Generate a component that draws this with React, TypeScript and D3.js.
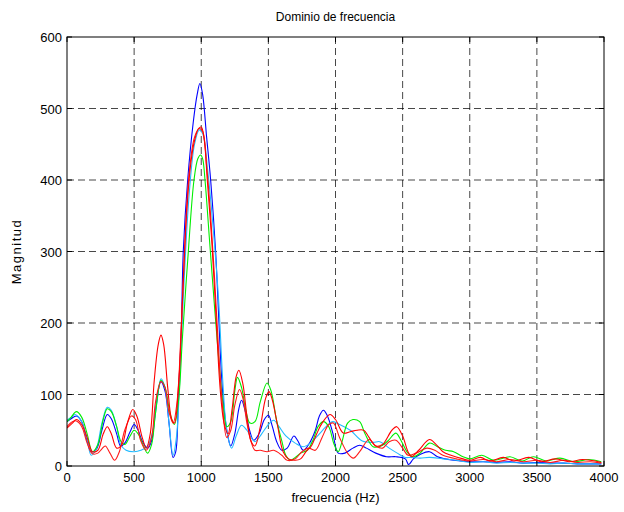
import React from "react";
import * as d3 from "d3";

const xTicks = [0, 500, 1000, 1500, 2000, 2500, 3000, 3500, 4000];
const yTicks = [0, 100, 200, 300, 400, 500, 600];

const blueData: [number, number][] = [
  [0,62],[30,66],[70,70],[110,62],[150,35],[180,20],[220,24],[260,50],[300,72],[330,66],[370,45],[400,28],[430,32],[470,48],[500,58],[530,50],[560,35],[600,25],[630,35],[660,80],[700,118],[730,105],[760,60],[790,12],[810,20],[830,100],[850,180],[866,300],[899,400],[940,480],[970,520],[990,535],[1010,520],[1040,460],[1070,400],[1107,300],[1132,200],[1150,130],[1170,80],[1200,40],[1220,28],[1250,45],[1280,80],[1300,92],[1330,75],[1360,50],[1390,36],[1430,45],[1470,65],[1500,71],[1530,55],[1560,35],[1600,22],[1640,25],[1690,42],[1720,35],[1760,22],[1800,30],[1850,50],[1880,70],[1910,78],[1940,70],[1980,46],[2020,18],[2070,18],[2130,25],[2180,29],[2230,25],[2300,18],[2380,13],[2450,13],[2520,10],[2545,2],[2580,10],[2630,16],[2700,20],[2760,13],[2880,8],[3000,6],[3100,6],[3200,5],[3300,6],[3400,4],[3500,5],[3600,4],[3700,4],[3800,3],[3900,3],[3980,3]
];

const greenData: [number, number][] = [
  [0,62],[30,68],[70,76],[110,68],[150,45],[190,20],[230,30],[270,65],[300,80],[330,76],[370,55],[400,35],[430,30],[470,42],[500,50],[530,45],[570,28],[600,18],[630,30],[660,75],[700,120],[730,110],[770,72],[800,58],[830,90],[860,180],[900,290],[946,400],[975,430],[995,435],[1010,430],[1028,400],[1060,320],[1100,220],[1130,150],[1160,90],[1190,55],[1220,62],[1250,105],[1270,124],[1300,110],[1330,80],[1363,60],[1400,62],[1440,90],[1490,116],[1520,105],[1560,65],[1600,35],[1630,15],[1665,8],[1700,12],[1740,18],[1790,22],[1830,35],[1870,55],[1910,62],[1950,55],[1990,30],[2020,20],[2050,35],[2090,60],[2130,65],[2180,62],[2220,45],[2280,27],[2340,28],[2390,35],[2450,46],[2490,35],[2540,18],[2580,13],[2630,18],[2700,32],[2760,27],[2820,22],[2880,20],[2950,13],[3000,10],[3090,15],[3180,8],[3300,13],[3390,7],[3474,13],[3570,7],[3672,11],[3780,6],[3884,9],[3980,6]
];

const cyanData: [number, number][] = [
  [0,64],[30,68],[60,72],[100,65],[150,38],[180,15],[220,25],[260,60],[300,82],[330,78],[370,55],[400,30],[440,22],[500,20],[550,22],[600,28],[640,50],[670,90],[700,122],[730,110],[760,60],[790,15],[815,40],[840,120],[870,250],[910,380],[950,450],[985,470],[1010,465],[1050,410],[1090,330],[1130,230],[1160,120],[1190,50],[1226,25],[1260,42],[1300,57],[1340,50],[1400,34],[1450,45],[1500,58],[1540,64],[1580,55],[1630,42],[1700,32],[1760,27],[1820,33],[1880,45],[1930,55],[1980,62],[2030,58],[2110,50],[2200,35],[2280,33],[2330,34],[2400,25],[2460,18],[2520,12],[2560,12],[2630,11],[2700,12],[2800,10],[2900,8],[3000,5],[3100,6],[3200,4],[3300,5],[3400,4],[3500,4],[3600,3],[3700,4],[3800,3],[3900,3],[3980,3]
];

const redData: [number, number][] = [
  [0,53],[40,60],[70,65],[110,58],[150,40],[190,20],[230,22],[270,45],[300,55],[330,45],[370,25],[410,30],[450,60],[490,79],[520,70],[560,40],[590,25],[620,45],[650,120],[680,170],[700,183],[720,170],[750,110],[780,65],[800,60],[830,110],[860,230],[890,350],[920,420],[950,455],[980,472],[1000,474],[1020,460],[1045,400],[1080,310],[1110,210],[1140,110],[1170,60],[1200,45],[1230,80],[1260,125],[1280,134],[1310,115],[1340,70],[1370,35],[1400,28],[1440,55],[1480,95],[1505,104],[1530,92],[1570,55],[1610,20],[1650,10],[1700,8],[1740,10],[1780,20],[1820,28],[1860,45],[1900,60],[1959,72],[2000,65],[2058,46],[2110,48],[2160,50],[2210,50],[2250,40],[2300,28],[2350,30],[2420,50],[2456,55],[2500,42],[2540,20],[2567,13],[2620,22],[2700,37],[2750,30],[2800,20],[2860,15],[2950,10],[3000,8],[3080,12],[3150,7],[3250,12],[3330,7],[3440,12],[3530,6],[3640,10],[3740,6],[3840,9],[3980,5]
];

const red2Data: [number, number][] = [
  [0,55],[40,62],[70,63],[110,55],[150,32],[190,17],[230,18],[260,24],[285,28],[320,18],[355,8],[390,20],[430,50],[480,70],[510,65],[550,35],[590,22],[630,40],[660,90],[700,118],[730,110],[760,75],[790,60],[820,90],[850,190],[880,320],[910,410],[950,460],[985,472],[1010,468],[1040,420],[1070,350],[1100,260],[1130,160],[1160,80],[1190,40],[1220,50],[1250,85],[1285,107],[1310,95],[1340,60],[1370,35],[1400,22],[1440,22],[1490,20],[1540,22],[1600,15],[1640,8],[1700,10],[1750,20],[1800,25],[1850,22],[1900,40],[1950,58],[1984,60],[2030,40],[2090,18],[2133,11],[2180,20],[2250,37],[2300,28],[2350,25],[2400,34],[2450,36],[2500,25],[2540,15],[2600,18],[2680,25],[2740,22],[2800,15],[2900,10],[3000,7],[3100,9],[3200,6],[3300,9],[3400,6],[3500,8],[3600,5],[3700,8],[3800,5],[3900,6],[3980,4]
];

const series = [
  { data: blueData, color: "#0000ff" },
  { data: cyanData, color: "#22bbff" },
  { data: greenData, color: "#00ee00" },
  { data: red2Data, color: "#ff1a1a" },
  { data: redData, color: "#ff0000" },
];

const W = 624, H = 512;
const L = 67, R = 604, T = 37, B = 466;

export default function App() {
  const x = d3.scaleLinear().domain([0, 4000]).range([L, R]);
  const y = d3.scaleLinear().domain([0, 600]).range([B, T]);
  const line = d3.line<[number, number]>()
    .x(d => x(d[0]))
    .y(d => y(d[1]))
    .curve(d3.curveCatmullRom.alpha(0.5));
  const font = "Liberation Sans, Arial, sans-serif";
  return (
    <svg width={W} height={H} style={{ position: "absolute", left: 0, top: 0 }}>
      <rect x={0} y={0} width={W} height={H} fill="#fff" />
      <rect x={L} y={T} width={R - L} height={B - T} fill="#fff" />
      {xTicks.slice(1, -1).map(t => (
        <line key={"gx" + t} x1={x(t)} x2={x(t)} y1={T} y2={B} stroke="#000" strokeOpacity={0.72} strokeWidth={1} strokeDasharray="7,4" />
      ))}
      {yTicks.slice(1, -1).map(t => (
        <line key={"gy" + t} x1={L} x2={R} y1={y(t)} y2={y(t)} stroke="#000" strokeOpacity={0.72} strokeWidth={1} strokeDasharray="7,4" />
      ))}
      <g clipPath="url(#clip)">
        <clipPath id="clip"><rect x={L} y={T} width={R - L} height={B - T} /></clipPath>
        {series.map((s, i) => (
          <path key={i} d={line(s.data) || ""} fill="none" stroke={s.color} strokeWidth={1.1} />
        ))}
      </g>
      <rect x={L} y={T} width={R - L} height={B - T} fill="none" stroke="#000" strokeWidth={1} />
      {xTicks.map(t => (
        <g key={"tx" + t}>
          <line x1={x(t)} x2={x(t)} y1={B} y2={B - 5} stroke="#000" />
          <line x1={x(t)} x2={x(t)} y1={T} y2={T + 5} stroke="#000" />
          <text x={x(t)} y={B + 16} textAnchor="middle" fontFamily={font} fontSize={13}>{t}</text>
        </g>
      ))}
      {yTicks.map(t => (
        <g key={"ty" + t}>
          <line x1={L} x2={L + 5} y1={y(t)} y2={y(t)} stroke="#000" />
          <line x1={R} x2={R - 5} y1={y(t)} y2={y(t)} stroke="#000" />
          <text x={L - 5} y={y(t) + 5} textAnchor="end" fontFamily={font} fontSize={13}>{t}</text>
        </g>
      ))}
      <text x={(L + R) / 2} y={21} textAnchor="middle" fontFamily={font} fontSize={12}>Dominio de frecuencia</text>
      <text x={(L + R) / 2} y={502} textAnchor="middle" fontFamily={font} fontSize={13}>frecuencia (Hz)</text>
      <text transform={`translate(21,${(T + B) / 2}) rotate(-90)`} textAnchor="middle" fontFamily={font} fontSize={13} letterSpacing={1.5}>Magnitud</text>
    </svg>
  );
}
